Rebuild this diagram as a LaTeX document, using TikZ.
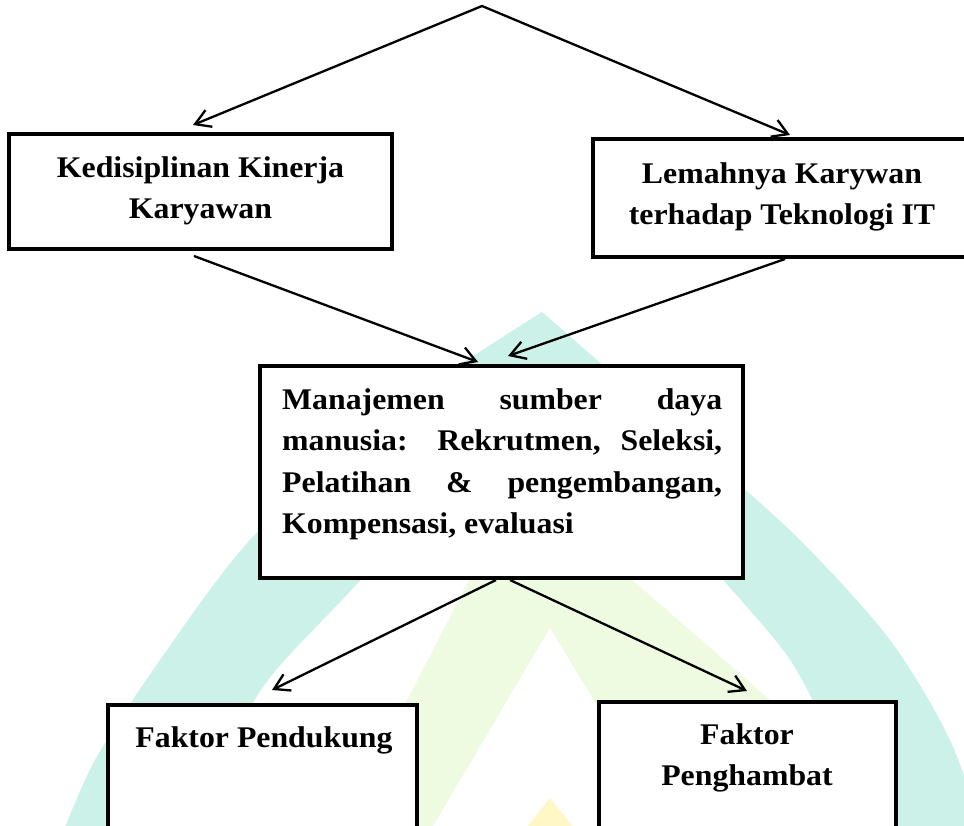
\documentclass[tikz,border=0pt]{standalone}
\usepackage{fontspec}
\setmainfont{Liberation Serif}[FakeStretch=1.06]
\usetikzlibrary{arrows.meta}

\definecolor{wmteal}{HTML}{CCF1E9}
\definecolor{wmgreen}{HTML}{EFFBE1}
\definecolor{wmyellow}{HTML}{FFF7C6}

\tikzset{openhead/.tip={Straight Barb[length=15pt, width=18pt]}}

\begin{document}
\begin{tikzpicture}[x=1pt, y=-1pt,
  font=\fontsize{30}{41.5}\selectfont\bfseries,
  frame/.style={draw, line width=4.8pt, fill=white, inner sep=0pt, outer sep=0pt, anchor=north west},
  txt/.style={inner sep=0pt, anchor=north, align=center},
  arr/.style={-openhead, line width=2.3pt}]
\useasboundingbox (0,0) rectangle (964,825);
\clip (0,0) rectangle (964,825);

% watermark
\fill[wmteal] plot[smooth] coordinates {(60,840) (95,760) (160,660) (250,540) (380,420) (542,312)}
  -- plot[smooth] coordinates {(542,312) (700,450) (800,540) (890,640) (950,740) (985,840)} -- cycle;
\fill[white] plot[smooth] coordinates {(195,840) (215,780) (253,703) (285,660) (361,580) (430,500) (542,420)}
  -- plot[smooth] coordinates {(542,420) (650,500) (723,580) (790,660) (830,740) (860,840)} -- cycle;
\fill[wmgreen] (330,850) -- (470,578) -- (548,500) -- (630,578) -- (770,700) -- (860,850) -- cycle;
\fill[white] (550,628) -- (419,850) -- (684,850) -- cycle;
\fill[wmyellow] (550,798) -- (509,850) -- (591,850) -- cycle;

% boxes
\node[frame, minimum width=383pt, minimum height=115pt] (kd) at (9,134) {};
\node[frame, minimum width=378pt, minimum height=118pt] (lk) at (593,139) {};
\node[frame, minimum width=483pt, minimum height=212pt] (hrm) at (260,366) {};
\node[frame, minimum width=309pt, minimum height=140pt] (fp) at (108,705) {};
\node[frame, minimum width=297pt, minimum height=143pt] (fh) at (599,702) {};

\node[txt] (kdt) at (200.5,147.95) {\strut Kedisiplinan Kinerja\\Karyawan};
\node[txt] (lkt) at (782,153.95) {\strut Lemahnya Karywan\\terhadap Teknologi IT};
\node[txt, anchor=north west, text width=440pt, align=justify] (hrmt) at (282,379.95)
  {\strut Manajemen sumber daya\linebreak manusia: Rekrutmen, Seleksi,\linebreak
   Pelatihan \& pengembangan,\linebreak Kompensasi, evaluasi};
\node[txt] (fpt) at (264,717.95) {\strut Faktor Pendukung};
\node[txt] (fht) at (747,714.95) {\strut Faktor\\Penghambat};

% connectors
\coordinate (apex) at (482,6);
\draw[openhead-openhead, line width=2.3pt] ([shift={(-7.5,-9)}]kd.north) -- (apex) -- ([shift={(8,-4)}]lk.north);
\draw[arr] ([shift={(-6.5,7)}]kd.south) -- ([shift={(-23.5,-4)}]hrm.north);
\draw[arr] ([shift={(3,2)}]lk.south) -- ([shift={(6.5,-10)}]hrm.north);
\draw[arr] ([shift={(-5.5,2)}]hrm.south) -- ([shift={(9.5,-15)}]fp.north);
\draw[arr] ([shift={(8.5,2)}]hrm.south) -- ([shift={(-0.5,-11)}]fh.north);
\end{tikzpicture}
\end{document}
